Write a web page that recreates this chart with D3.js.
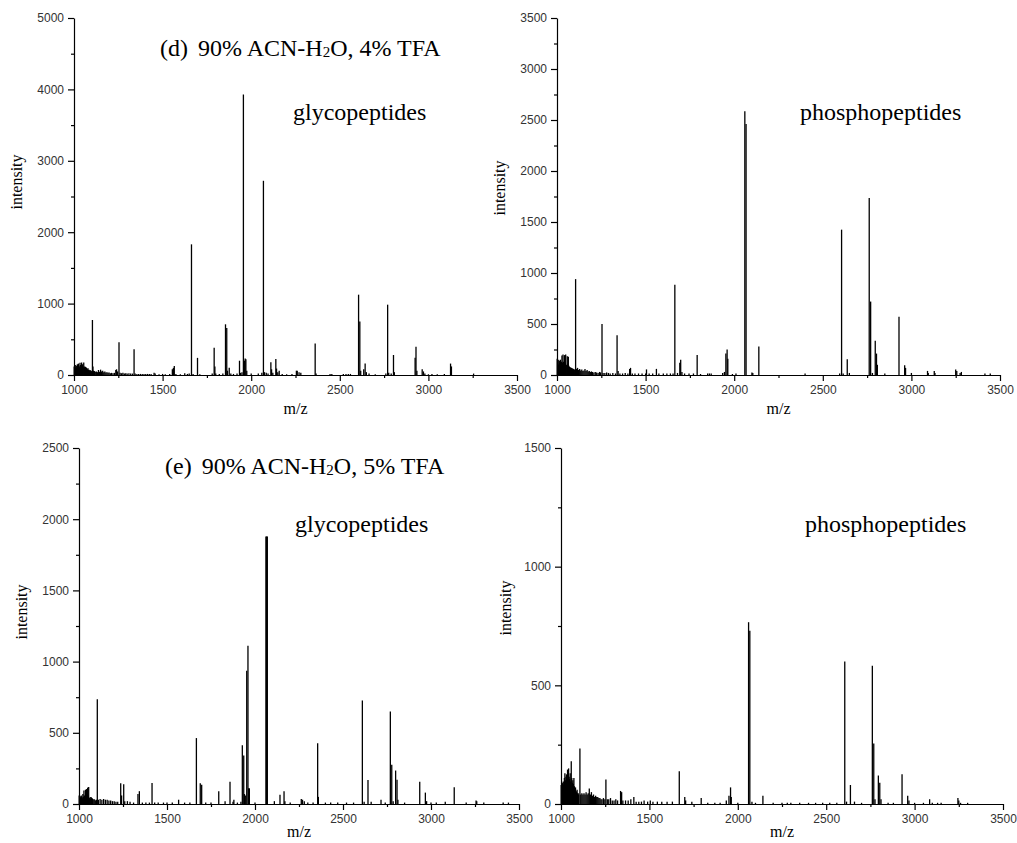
<!DOCTYPE html>
<html>
<head>
<meta charset="utf-8">
<script src="https://cdn.jsdelivr.net/npm/d3@7"></script>
<style>
  body { margin: 0; background: #fff; }
  .tick text { font-family: 'Liberation Sans', Arial, sans-serif; font-size: 12px; fill: #333; }
</style>
</head>
<body>
<script>
// peak lists: [m/z, intensity]
let glycoD = [
  [1001,120],[1004,90],[1007,140],[1010,110],[1013,130],[1016,95],[1019,150],[1022,120],[1025,160],[1028,130],
  [1031,110],[1034,170],[1037,140],[1040,120],[1043,175],[1046,130],[1049,150],[1052,110],[1055,175],[1058,120],
  [1061,100],[1064,115],[1067,95],[1070,105],[1073,90],[1076,80],[1079,95],[1082,70],[1085,75],[1088,60],
  [1091,70],[1094,55],[1097,60],[1100,50],[1104,770],[1107,120],[1110,60],[1115,55],[1120,45],[1126,50],
  [1132,40],[1138,70],[1144,45],[1150,75],[1156,50],[1162,60],[1168,40],[1174,50],[1180,35],[1186,40],
  [1192,30],[1198,35],[1205,25],[1212,30],[1220,25],[1228,30],[1236,70],[1240,80],[1246,50],[1254,460],
  [1260,30],[1268,25],[1276,30],[1284,20],[1292,25],[1300,20],[1310,25],[1320,20],[1330,20],[1339,360],
  [1345,20],[1355,15],[1365,15],[1375,15],[1385,15],[1395,15],[1405,15],[1415,15],[1425,15],[1435,15],
  [1452,30],[1458,20],[1480,10],[1500,15],[1515,10],[1540,15],[1555,80],[1561,100],[1566,125],[1575,15],
  [1600,10],[1625,25],[1640,15],[1650,20],[1663,1830],[1672,15],[1697,240],[1710,10],[1780,20],[1791,380],
  [1795,120],[1800,20],[1820,15],[1840,20],[1855,710],[1862,660],[1866,60],[1876,100],[1885,20],[1900,15],
  [1920,20],[1934,200],[1940,30],[1948,40],[1956,3930],[1962,200],[1966,230],[1970,220],[1975,60],[2000,20],
  [2040,20],[2060,30],[2069,2720],[2075,40],[2085,30],[2095,20],[2111,180],[2115,80],[2122,30],[2139,225],
  [2143,90],[2150,40],[2158,60],[2175,15],[2200,10],[2230,15],[2255,60],[2260,60],[2270,40],[2280,30],
  [2361,440],[2366,20],[2445,15],[2455,15],[2520,15],[2535,15],[2548,15],[2560,15],[2606,1125],[2613,750],
  [2618,60],[2635,80],[2643,160],[2650,40],[2665,20],[2700,10],[2760,20],[2770,985],[2776,30],[2790,20],
  [2803,280],[2808,40],[2925,240],[2930,395],[2935,60],[2965,80],[2972,50],[2980,20],[3000,10],[3020,15],
  [3050,10],[3090,15],[3125,160],[3130,120],[3255,20]
];

let phosphoD = [
  [1001,160],[1004,110],[1007,150],[1010,100],[1013,140],[1016,120],[1019,150],[1022,110],[1025,130],[1028,190],
  [1031,120],[1034,200],[1037,130],[1040,110],[1043,195],[1046,120],[1049,200],[1052,100],[1055,95],[1058,185],
  [1061,110],[1064,180],[1067,90],[1070,80],[1073,70],[1076,75],[1079,65],[1082,70],[1085,60],[1088,65],
  [1091,55],[1094,60],[1097,50],[1100,55],[1105,940],[1110,60],[1116,70],[1122,50],[1128,60],[1134,45],
  [1140,55],[1146,40],[1152,45],[1158,60],[1164,40],[1170,50],[1176,35],[1182,40],[1188,30],[1194,35],
  [1200,30],[1208,25],[1216,30],[1224,25],[1232,20],[1240,30],[1246,25],[1254,500],[1260,20],[1270,20],
  [1280,25],[1290,20],[1300,15],[1315,20],[1330,15],[1339,390],[1345,40],[1355,15],[1370,15],[1385,20],
  [1400,15],[1410,60],[1415,70],[1425,15],[1440,15],[1460,15],[1480,15],[1500,15],[1505,55],[1520,15],
  [1540,15],[1561,60],[1575,15],[1600,15],[1620,15],[1640,15],[1655,15],[1665,885],[1680,20],[1693,120],
  [1698,150],[1705,30],[1720,15],[1745,15],[1770,15],[1791,195],[1810,10],[1850,15],[1860,15],[1870,15],
  [1935,20],[1945,30],[1953,210],[1960,250],[1964,160],[1990,10],[2010,15],[2060,2585],[2067,2460],[2100,25],
  [2105,20],[2139,280],[2400,15],[2595,15],[2606,1425],[2615,15],[2638,155],[2650,20],[2762,1735],[2770,720],
  [2780,20],[2796,335],[2803,210],[2808,100],[2850,15],[2930,570],[2962,95],[2967,70],[3000,20],[3091,40],
  [3095,20],[3129,40],[3133,20],[3250,55],[3256,40],[3275,20],[3282,30],[3415,15],[3445,15]
];

let glycoE = [
  [1001,60],[1004,40],[1007,55],[1010,45],[1013,60],[1016,50],[1019,40],[1022,70],[1025,50],[1028,95],
  [1031,60],[1034,45],[1037,100],[1040,60],[1043,105],[1046,50],[1049,115],[1052,60],[1055,120],[1058,45],
  [1061,40],[1064,35],[1067,50],[1070,45],[1073,35],[1076,40],[1080,30],[1085,35],[1090,30],[1095,25],
  [1100,30],[1104,735],[1110,30],[1120,35],[1130,30],[1140,35],[1150,30],[1160,30],[1170,25],[1180,25],
  [1190,20],[1200,20],[1210,15],[1220,15],[1237,145],[1242,60],[1254,138],[1260,20],[1275,20],[1290,15],
  [1310,10],[1335,70],[1343,90],[1360,10],[1380,10],[1400,10],[1415,147],[1430,10],[1450,10],[1480,10],
  [1500,10],[1530,10],[1566,30],[1600,10],[1630,10],[1667,463],[1689,145],[1697,135],[1720,10],[1750,10],
  [1794,90],[1830,20],[1858,157],[1875,15],[1880,30],[1900,10],[1920,15],[1928,412],[1936,340],[1940,70],
  [1945,60],[1953,935],[1960,1111],[1964,110],[1968,110],[2000,10],[2062,1878],[2066,1878],[2070,1878],[2110,20],
  [2142,65],[2165,90],[2170,20],[2200,10],[2263,35],[2270,30],[2280,20],[2300,10],[2330,10],[2356,426],
  [2360,50],[2400,10],[2430,10],[2470,10],[2520,10],[2560,10],[2610,727],[2620,15],[2642,168],[2660,15],
  [2716,30],[2740,10],[2769,650],[2777,275],[2785,20],[2799,235],[2807,170],[2812,30],[2850,10],[2936,157],
  [2968,80],[2975,20],[3000,10],[3030,10],[3081,15],[3132,118],[3200,10],[3256,25],[3260,20],[3300,10],
  [3410,10],[3440,10]
];

let phosphoE = [
  [1001,80],[1004,70],[1007,90],[1010,85],[1013,95],[1016,80],[1019,110],[1022,130],[1025,100],[1028,115],
  [1031,125],[1034,100],[1037,145],[1040,120],[1043,150],[1046,115],[1049,105],[1052,130],[1055,95],[1058,180],
  [1061,110],[1064,90],[1067,100],[1070,85],[1073,110],[1076,75],[1079,60],[1082,70],[1085,55],[1088,50],
  [1091,60],[1094,45],[1097,45],[1100,40],[1107,234],[1112,40],[1118,45],[1124,40],[1130,45],[1136,40],
  [1142,50],[1148,40],[1154,45],[1160,65],[1166,40],[1172,50],[1178,35],[1184,40],[1190,30],[1196,35],
  [1202,30],[1208,30],[1214,25],[1220,25],[1226,20],[1232,20],[1240,25],[1248,20],[1254,103],[1262,20],
  [1270,20],[1280,25],[1290,15],[1300,15],[1310,20],[1320,15],[1337,55],[1343,50],[1350,15],[1365,15],
  [1380,15],[1395,20],[1412,30],[1425,10],[1440,10],[1455,10],[1470,15],[1490,10],[1505,15],[1520,10],
  [1545,10],[1570,10],[1600,10],[1630,10],[1669,138],[1700,30],[1705,15],[1740,10],[1793,25],[1830,5],
  [1870,5],[1900,5],[1935,15],[1950,35],[1959,70],[1963,30],[2000,5],[2061,766],[2068,730],[2080,10],
  [2100,5],[2142,35],[2200,5],[2250,5],[2280,5],[2300,5],[2350,5],[2400,5],[2440,5],[2480,5],
  [2520,5],[2560,5],[2605,600],[2615,10],[2637,80],[2660,10],[2700,5],[2761,582],[2769,255],[2776,20],
  [2795,120],[2803,90],[2810,20],[2850,5],[2880,5],[2929,125],[2961,35],[2968,15],[3000,5],[3050,5],
  [3085,20],[3100,5],[3130,5],[3150,5],[3245,25],[3250,15],[3260,5],[3300,5]
];

let xMajor = [1000, 1500, 2000, 2500, 3000, 3500];
let xMinor = [1250, 1750, 2250, 2750, 3250];

let width = 1017, height = 843;

let svg = d3.select('body')
  .append('svg')
  .attr('width', width)
  .attr('height', height)
  .style('background', '#fff');

function drawPanel(p) {
  let xScale = d3.scaleLinear().domain([1000, 3500]).range([p.left, p.right]);
  let yScale = d3.scaleLinear().domain([0, p.yMax]).range([p.bottom, p.top]);

  let g = svg.append('g');

  // peaks as sticks
  g.selectAll('line.peak')
    .data(p.data)
    .enter()
    .append('line')
    .attr('class', 'peak')
    .attr('x1', d => xScale(d[0]))
    .attr('x2', d => xScale(d[0]))
    .attr('y1', yScale(0))
    .attr('y2', d => yScale(d[1]))
    .attr('stroke', '#000')
    .attr('stroke-width', 1.3);

  // minor ticks first, then the major axis on top
  g.append('g')
    .attr('transform', `translate(0, ${p.bottom})`)
    .call(d3.axisBottom(xScale).tickValues(xMinor).tickSize(3).tickFormat(''))
    .call(a => a.select('.domain').remove());
  g.append('g')
    .attr('transform', `translate(0, ${p.bottom})`)
    .call(d3.axisBottom(xScale).tickValues(xMajor).tickSize(6).tickSizeOuter(0).tickPadding(4).tickFormat(d3.format('d')));

  g.append('g')
    .attr('transform', `translate(${p.left}, 0)`)
    .call(d3.axisLeft(yScale).tickValues(p.yMinor).tickSize(3).tickFormat(''))
    .call(a => a.select('.domain').remove());
  g.append('g')
    .attr('transform', `translate(${p.left}, 0)`)
    .call(d3.axisLeft(yScale).tickValues(p.yMajor).tickSize(6).tickSizeOuter(0).tickPadding(4).tickFormat(d3.format('d')));

  g.selectAll('.domain, .tick line').attr('stroke', '#000').attr('stroke-width', 1.2);

  // axis titles
  g.append('text')
    .attr('x', (p.left + p.right) / 2)
    .attr('y', p.mzY)
    .attr('text-anchor', 'middle')
    .style('font-family', "'Liberation Serif', 'Times New Roman', serif")
    .style('font-size', '16px')
    .text('m/z');

  g.append('text')
    .attr('transform', `translate(${p.yLabelX}, ${p.yLabelY}) rotate(-90)`)
    .attr('text-anchor', 'middle')
    .style('font-family', "'Liberation Serif', 'Times New Roman', serif")
    .style('font-size', '16px')
    .text('intensity');

  // annotations
  if (p.title) {
    let t = g.append('text')
      .attr('x', p.titleX)
      .attr('y', p.titleY)
      .style('font-family', "'Liberation Serif', 'Times New Roman', serif")
      .style('font-size', '24px');
    t.append('tspan').text('(' + p.title.tag + ')');
    t.append('tspan').attr('dx', 10).text(p.title.before);
    t.append('tspan').attr('dy', 1).style('font-size', '15px').text('2');
    t.append('tspan').attr('dy', -1).text(p.title.after);
  }

  g.append('text')
    .attr('x', p.tagX)
    .attr('y', p.tagY)
    .style('font-family', "'Liberation Serif', 'Times New Roman', serif")
    .style('font-size', '24px')
    .text(p.tag);
}

drawPanel({
  data: glycoD, yMax: 5000,
  yMajor: [0, 1000, 2000, 3000, 4000, 5000], yMinor: [500, 1500, 2500, 3500, 4500],
  left: 74, right: 517, top: 18, bottom: 375, mzY: 414,
  title: { tag: 'd', before: '90% ACN-H', after: 'O, 4% TFA' }, titleX: 160, titleY: 56,
  tag: 'glycopeptides', tagX: 293, tagY: 120,
  yLabelX: 22, yLabelY: 182
});

drawPanel({
  data: phosphoD, yMax: 3500,
  yMajor: [0, 500, 1000, 1500, 2000, 2500, 3000, 3500], yMinor: [250, 750, 1250, 1750, 2250, 2750, 3250],
  left: 557, right: 1000, top: 18, bottom: 375, mzY: 414,
  title: null,
  tag: 'phosphopeptides', tagX: 800, tagY: 120,
  yLabelX: 505, yLabelY: 188
});

drawPanel({
  data: glycoE, yMax: 2500,
  yMajor: [0, 500, 1000, 1500, 2000, 2500], yMinor: [250, 750, 1250, 1750, 2250],
  left: 79, right: 519, top: 448, bottom: 804, mzY: 837,
  title: { tag: 'e', before: '90% ACN-H', after: 'O, 5% TFA' }, titleX: 165, titleY: 474,
  tag: 'glycopeptides', tagX: 295, tagY: 532,
  yLabelX: 27, yLabelY: 612
});

drawPanel({
  data: phosphoE, yMax: 1500,
  yMajor: [0, 500, 1000, 1500], yMinor: [250, 750, 1250],
  left: 561, right: 1003, top: 448, bottom: 804, mzY: 837,
  title: null,
  tag: 'phosphopeptides', tagX: 805, tagY: 532,
  yLabelX: 511, yLabelY: 608
});
</script>
</body>
</html>
